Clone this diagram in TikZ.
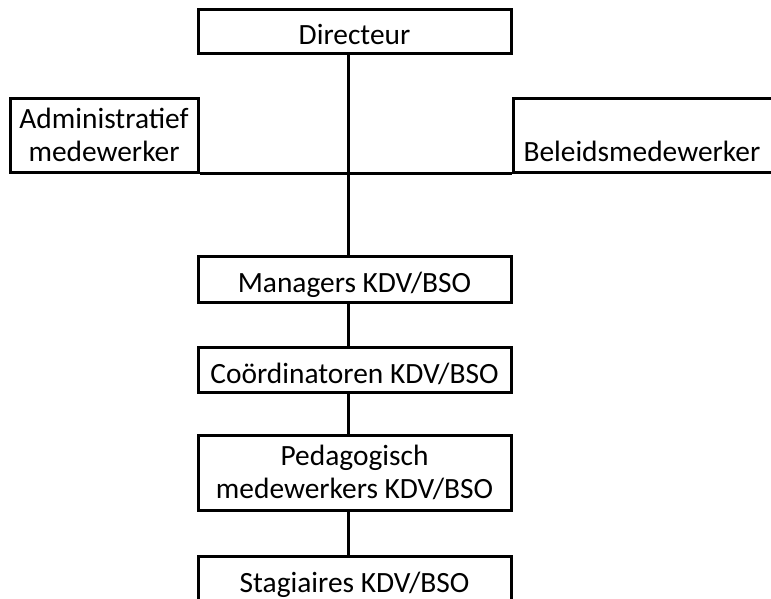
\documentclass[tikz,border=0pt]{standalone}
\usepackage{fontspec}
\setmainfont{Carlito}
\begin{document}
\begin{tikzpicture}[x=1pt,y=1pt,line width=3pt,
    orgbox/.style={draw,rectangle,inner sep=0pt,minimum width=313pt,align=center,font=\fontsize{29.4}{33}\selectfont},
    oneline/.style={orgbox,text height=31pt,text depth=4pt}]
    \useasboundingbox (0,0) rectangle (771,-598);
    \clip (0,0) rectangle (771,-598);
    \node[oneline,minimum height=44pt] (dir) at (354.5,-31) {Directeur};
    \node[orgbox,minimum width=188pt,minimum height=74pt] (admin) at (104,-135) {Administratief\\medewerker};
    \node[orgbox,anchor=west,minimum width=0pt,text width=300pt,inner xsep=10pt,align=left,minimum height=74pt] (beleid) at (512,-135) {\vphantom{Ad}\\Beleidsmedewerker};
    \node[oneline,minimum height=46pt] (mgr) at (354.5,-279) {Managers KDV/BSO};
    \node[oneline,minimum height=45pt] (coord) at (354.5,-369.5) {Coördinatoren KDV/BSO};
    \node[orgbox,minimum height=75pt] (ped) at (354.5,-472.5) {Pedagogisch\\medewerkers KDV/BSO};
    \node[oneline,minimum height=46pt] (stag) at (354.5,-579) {Stagiaires KDV/BSO};
    \coordinate (spine) at (348,0);
    \draw (admin.south east) -- (admin.south east -| beleid.west);
    \foreach \a/\b in {dir/mgr,mgr/coord,coord/ped,ped/stag}
        \draw (\a.south -| spine) -- (\b.north -| spine);
\end{tikzpicture}
\end{document}
